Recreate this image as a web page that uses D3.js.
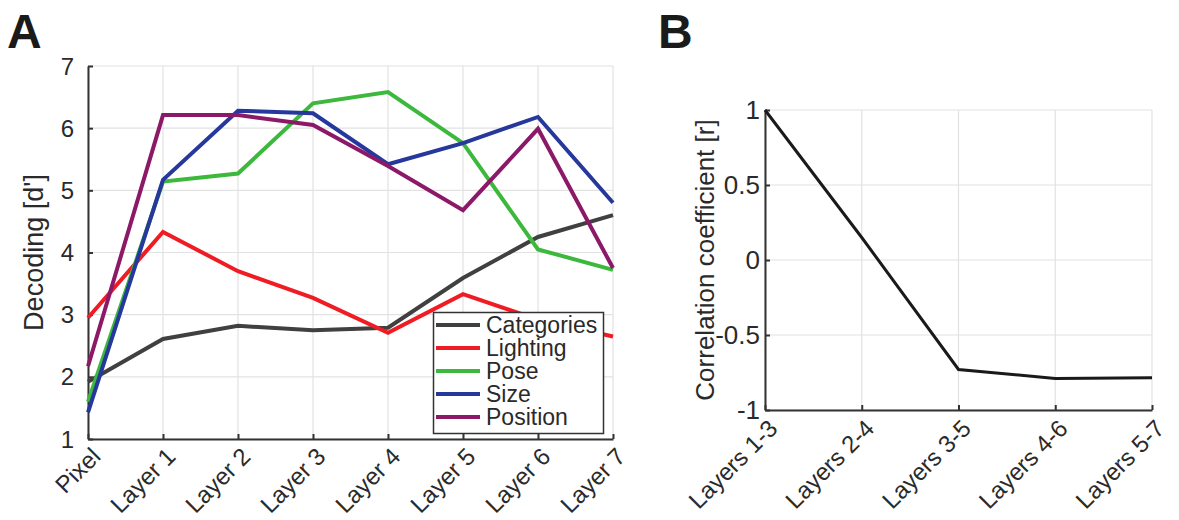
<!DOCTYPE html>
<html>
<head>
<meta charset="utf-8">
<script src="https://cdn.jsdelivr.net/npm/d3@7"></script>
<style>
  html, body { margin: 0; padding: 0; background: #fff; }
  svg { display: block; font-family: "Liberation Sans", Arial, Helvetica, sans-serif; }
</style>
</head>
<body>
<svg id="fig" width="1179" height="520"></svg>
<script>
// Panel A: decoding performance (d') of each property across network stages
const stages = ["Pixel", "Layer 1", "Layer 2", "Layer 3", "Layer 4", "Layer 5", "Layer 6", "Layer 7"];
const categories = [1.92, 2.61, 2.82, 2.75, 2.79, 3.59, 4.25, 4.60];
const lighting   = [2.95, 4.33, 3.70, 3.27, 2.71, 3.33, 2.92, 2.65];
const pose       = [1.60, 5.14, 5.27, 6.40, 6.58, 5.76, 4.05, 3.72];
const size       = [1.43, 5.17, 6.28, 6.24, 5.42, 5.76, 6.18, 4.80];
const position   = [2.17, 6.21, 6.21, 6.05, 5.39, 4.68, 5.99, 3.75];
const seriesNames = ["Categories", "Lighting", "Pose", "Size", "Position"];
const seriesColors = ["#404040", "#f01c24", "#3cb83c", "#27389c", "#8c1868"];
const decodingTicks = [1, 2, 3, 4, 5, 6, 7];

// Panel B: correlation coefficient between sliding windows of layers
const windows = ["Layers 1-3", "Layers 2-4", "Layers 3-5", "Layers 4-6", "Layers 5-7"];
const correlation = [1.0, 0.15, -0.73, -0.79, -0.785];
const corrTicks = [-1, -0.5, 0, 0.5, 1];

const svg = d3.select("#fig");
const axisColor = "#333";
const gridColor = "#e2e2e2";
const textColor = "#2a2a2a";

function drawPanel(opt) {
  const g = svg.append("g");
  const x = d3.scalePoint().domain(opt.cats).range([opt.left, opt.right]);
  const y = d3.scaleLinear().domain(opt.yDomain).range([opt.bottom, opt.top]);

  // grid
  g.append("g").selectAll("line").data(opt.cats).join("line")
    .attr("x1", d => x(d)).attr("x2", d => x(d))
    .attr("y1", opt.top).attr("y2", opt.bottom)
    .attr("stroke", gridColor).attr("stroke-width", 1.2);
  g.append("g").selectAll("line").data(opt.yTicks).join("line")
    .attr("x1", opt.left).attr("x2", opt.right)
    .attr("y1", d => y(d)).attr("y2", d => y(d))
    .attr("stroke", gridColor).attr("stroke-width", 1.2);

  // axes (inward ticks)
  const xAxis = d3.axisBottom(x).tickSizeInner(-5).tickSizeOuter(0).tickFormat("");
  const yAxis = d3.axisLeft(y).tickValues(opt.yTicks).tickSizeInner(-5).tickSizeOuter(0).tickFormat("");
  const gx = g.append("g").attr("transform", `translate(0,${opt.bottom})`).call(xAxis);
  const gy = g.append("g").attr("transform", `translate(${opt.left},0)`).call(yAxis);
  [gx, gy].forEach(a => {
    a.select(".domain").attr("stroke", axisColor).attr("stroke-width", 2);
    a.selectAll(".tick line").attr("stroke", axisColor).attr("stroke-width", 2);
  });

  // y tick labels
  g.append("g").selectAll("text").data(opt.yTicks).join("text")
    .attr("x", opt.left - opt.yLabelGap).attr("y", d => y(d))
    .attr("dy", "0.36em").attr("text-anchor", "end")
    .attr("font-size", opt.tickFont).attr("fill", textColor)
    .text(d => String(d));

  // rotated x tick labels
  g.append("g").selectAll("text").data(opt.cats).join("text")
    .attr("transform", d => `translate(${x(d) + opt.xdx},${opt.bottom + opt.xdy}) rotate(-45)`)
    .attr("text-anchor", "end")
    .attr("font-size", opt.xTickFont).attr("fill", textColor)
    .text(d => d);

  // y axis title
  g.append("text")
    .attr("transform", `translate(${opt.titleX},${(opt.top + opt.bottom) / 2}) rotate(-90)`)
    .attr("text-anchor", "middle").attr("dy", "0.35em")
    .attr("font-size", opt.titleFont).attr("fill", textColor)
    .text(opt.yTitle);

  return { g, x, y };
}

// ---- Panel A ----
const A = drawPanel({
  cats: stages, yDomain: [1, 7], yTicks: decodingTicks,
  left: 88, right: 613, top: 66, bottom: 439,
  yLabelGap: 14, tickFont: 24, xTickFont: 24,
  xdx: 14, xdy: 19,
  titleX: 34, titleFont: 27, yTitle: "Decoding [d']"
});

const seriesValues = [categories, lighting, pose, size, position];
const lineA = d3.line().x((d, i) => A.x(stages[i])).y(d => A.y(d));
A.g.append("g").selectAll("path").data(seriesValues).join("path")
  .attr("d", d => lineA(d))
  .attr("fill", "none")
  .attr("stroke", (d, i) => seriesColors[i])
  .attr("stroke-width", 4)
  .attr("stroke-linejoin", "miter");

// legend
const leg = A.g.append("g");
leg.append("rect")
  .attr("x", 433.5).attr("y", 312.5).attr("width", 170).attr("height", 121)
  .attr("fill", "#fff").attr("stroke", "#333").attr("stroke-width", 1.5);
const legRows = leg.selectAll("g").data(seriesNames).join("g")
  .attr("transform", (d, i) => `translate(0,${325 + i * 23})`);
legRows.append("line")
  .attr("x1", 436).attr("x2", 480).attr("y1", 0).attr("y2", 0)
  .attr("stroke", (d, i) => seriesColors[i]).attr("stroke-width", 4);
legRows.append("text")
  .attr("x", 486).attr("y", 0).attr("dy", "0.36em")
  .attr("font-size", 23).attr("fill", textColor)
  .text(d => d);

// ---- Panel B ----
const B = drawPanel({
  cats: windows, yDomain: [-1, 1], yTicks: corrTicks,
  left: 765, right: 1152, top: 110, bottom: 410,
  yLabelGap: 5, tickFont: 26, xTickFont: 24,
  xdx: 14, xdy: 20,
  titleX: 705, titleFont: 26, yTitle: "Correlation coefficient [r]"
});

const lineB = d3.line().x((d, i) => B.x(windows[i])).y(d => B.y(d));
B.g.append("path")
  .datum(correlation)
  .attr("d", lineB)
  .attr("fill", "none").attr("stroke", "#1a1a1a").attr("stroke-width", 3);

// panel letters
svg.append("text").attr("x", 7).attr("y", 48)
  .attr("font-size", 48).attr("font-weight", "bold").attr("fill", "#1a1a1a").text("A");
svg.append("text").attr("x", 658).attr("y", 48)
  .attr("font-size", 48).attr("font-weight", "bold").attr("fill", "#1a1a1a").text("B");
</script>
</body>
</html>
